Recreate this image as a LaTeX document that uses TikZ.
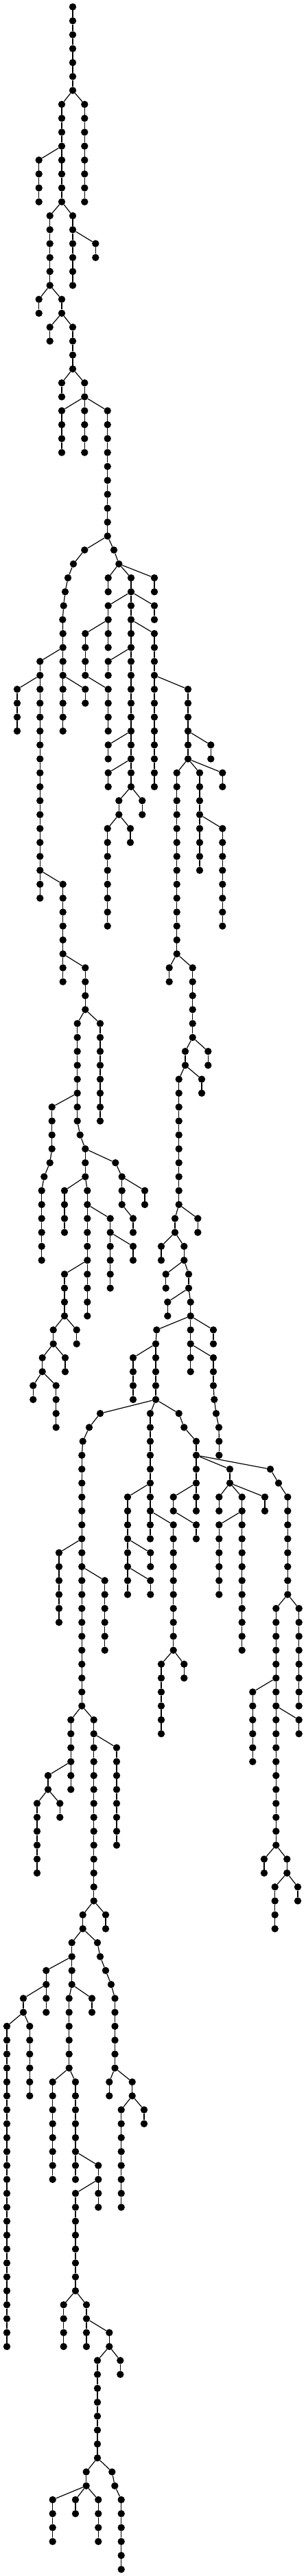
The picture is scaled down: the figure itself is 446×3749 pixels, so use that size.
\documentclass[tikz,border=0pt]{standalone}
\usepackage{tikz}

\begin{document}
\begin{tikzpicture}[x=1pt,y=-1pt]

\tikzstyle{vertex}=[circle, fill=black, inner sep=0pt, minimum size=10.4pt]
\tikzstyle{edge}=[line width=1.2pt, black]

\useasboundingbox (0,0) rectangle (446,3749);

\foreach \c/\x/\a/\b/\p in {a/106/0/6/none,
b/123.3/7/14/a-6,
c/90/7/14/a-6,
d/56.7/11/14/c-10,
e/106/15/20/c-14,
f/139.3/17/18/e-16,
g/72.7/15/20/c-14,
h/56.7/21/22/g-20,
i/90/21/22/g-20,
j/72.7/23/24/i-22,
k/106/23/26/i-22,
l/90/27/28/k-26,
m/123.3/27/28/k-26,
n/90/29/32/m-28,
o/123.3/29/32/m-28,
p/156.7/29/38/m-28,
q/123.3/39/39/p-38,
q/107/40/40/q-39,
q/99/41/41/q-40,
q/95/42/42/q-41,
q/92.7/43/43/q-42,
q/91.3/44/44/q-43,
q/91.7/45/52/q-44,
r/58.3/47/64/q-46,
s/25/49/52/r-48,
t/124.3/49/50/q-48,
w/166/39/39/p-38,
w/173.3/40/40/w-39,
xa/157.7/41/42/w-40,
ya/191/41/42/w-40,
za/225/41/42/w-40,
yb/157.7/43/46/ya-42,
yc/191/43/56/ya-42,
zb/225/43/44/ya-42,
u/124.3/45/48/yb-44,
v/157.7/49/52/u-48,
aa/225/45/56/yc-44,
bb/157.7/47/48/yc-46,
cc/157.7/53/54/yc-52,
dd/157.7/55/56/yc-54,
ee/207.3/57/58/yc-56,
ff/173.3/57/58/yc-56,
gg/274/49/54/aa-48,
hh/307.3/53/54/gg-52,
ii/257.7/55/68/gg-54,
jj/291/55/62/gg-54,
kk/324.3/55/56/gg-54,
ll/324.3/59/66/jj-58,
mm/91.7/63/70/r-62,
nn/124.3/69/72/mm-68,
oo/156.7/59/66/ff-58,
pp/190/59/60/ff-58,
qq/246.7/69/70/ii-68,
rr/280.7/69/74/ii-68,
na/112.7/73/80/nn-72,
na/116.7/81/81/na-80,
na/124.3/82/84/na-81,
nb/146/73/80/nn-72,
ss/75.7/79/82/na-78,
ss/72.7/83/83/ss-82,
ss/64.3/84/84/ss-83,
ss/60.7/85/90/ss-84,
ta/94/85/88/na-84,
tb/127.3/85/94/na-84,
tc/160.7/87/92/tb-86,
uu/194/89/90/tc-88,
vv/94/91/94/tb-90,
va/111.7/95/96/vv-94,
vb/77.7/95/96/vv-94,
vc/95/97/98/vb-96,
vd/61.7/97/98/vb-96,
ve/48.3/99/100/vd-98,
vf/81.7/99/102/vd-98,
wa/168.3/83/83/na-82,
wa/177.7/84/84/wa-83,
xx/177.7/85/86/wa-84,
xx/194/87/88/xx-86,
yy/211/85/86/wa-84,
ra/270/75/76/rr-74,
rb/303.3/75/76/rr-74,
rc/260.7/77/86/ra-76,
rd/294/77/78/ra-76,
re/255/87/88/rc-86,
rf/288.3/87/88/rc-86,
rg/235/89/90/re-88,
rh/268.3/89/90/re-88,
ri/241.7/91/92/rh-90,
rj/275/91/92/rh-90,
rk/244.3/93/94/rj-92,
rl/277.7/93/94/rj-92,
rm/228.3/95/95/rl-94,
rm/227/96/100/rm-95,
rn/277.7/95/96/rl-94,
ro/311/95/96/rl-94,
rp/277.7/97/98/rn-96,
rq/311/97/99/rn-96,
rq/312.3/100/100/rq-99,
rq/315/101/101/rq-100,
rq/319/102/102/rq-101,
rq/319.3/103/104/rq-102,
rs/194/97/100/rm-96,
ab/146/101/101/rm-100,
ab/130/102/102/ab-101,
ab/120.7/103/103/ab-102,
ab/119.3/104/122/ab-103,
ai/219/101/110/rm-100,
ap/260.7/101/101/rm-100,
ap/268.3/102/102/ap-101,
ap/286/103/108/ap-102,
ac/86/111/116/ab-110,
ad/152.7/113/118/ab-112,
ae/103.3/123/128/ab-122,
af/136.7/123/136/ab-122,
ag/170/125/132/af-124,
ah/70/127/128/ae-126,
aj/186/107/114/ai-106,
ak/219.3/111/112/aj-110,
al/219.3/113/114/aj-112,
am/252.7/109/118/ai-108,
an/268.3/119/120/am-118,
ao/235/119/124/am-118,
aq/252.7/107/108/ap-106,
ar/286/109/110/aq-108,
as/335/105/106/ap-104,
aw/394/105/105/ap-104,
aw/406/106/106/aw-105,
aw/419.3/107/114/aw-106,
at/352.7/107/118/as-106,
au/319.3/107/108/as-106,
av/386/107/108/as-106,
ba/319.3/109/114/at-108,
ax/402.3/115/132/aw-114,
ay/435.7/115/122/aw-114,
az/368.3/121/126/ax-120,
bc/435.7/123/124/ax-122,
bd/385/133/134/ax-132,
be/418.3/133/134/ax-132,
bf/400.7/135/138/be-134,
bg/434/135/136/be-134,
ha/54/129/134/ah-128,
hb/87.3/129/130/ah-128,
fa/120.7/137/138/af-136,
fb/154/137/138/af-136,
fc/104.7/139/142/fa-138,
fd/142/139/139/fa-138,
fd/146/140/140/fd-139,
fd/154/141/141/fd-140,
fd/162/142/142/fd-141,
fd/167.5/143/148/fd-142,
fe/67.3/141/142/fc-140,
fg/34/143/144/fe-142,
fh/67.3/143/144/fe-142,
fi/100.7/143/148/fc-142,
fj/134/143/144/fc-142,
ga/10/145/168/fg-144,
gb/43.3/145/150/fg-144,
gc/76.7/149/156/fi-148,
gd/110/149/156/fi-148,
ge/143.3/155/158/gd-154,
gf/110/157/164/ge-156,
gh/159.3/149/150/fd-148,
gi/192.7/149/150/fd-148,
gj/176.7/151/158/gi-150,
gk/210/151/152/gi-150,
ka/92.7/165/168/gf-164,
kb/126/165/168/gf-164,
kc/159.3/167/168/kb-166,
kd/142/169/176/kc-168,
ke/175.3/169/170/kc-168,
kf/125.7/177/178/kd-176,
kg/163.3/177/177/kd-176,
kg/167.3/178/178/kg-177,
kg/176.7/179/184/kg-178,
kh/76.7/179/182/kf-178,
ki/110/179/180/kf-178,
kj/143.3/179/182/kf-178}{
  \foreach \l in {\a,...,\b}{
    \node[vertex] (\c-\l) at (\x,{10+20.268*\l}) {};
    \pgfmathtruncatemacro{\prev}{\l-1}
    \ifnum\l>\a
      \draw[edge] (\c-\prev) -- (\c-\l);
    \else
      \ifnum\l>0
        \draw[edge] (\p) -- (\c-\l);
      \fi
    \fi
  }
}
\end{tikzpicture}
\end{document}
